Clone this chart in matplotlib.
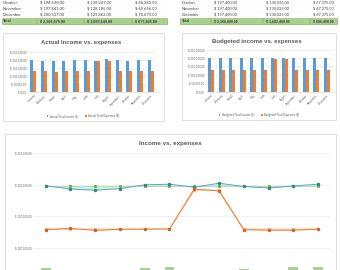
import matplotlib
matplotlib.use('Agg')
import matplotlib.pyplot as plt
from matplotlib.patches import Rectangle
import numpy as np

plt.rcParams['font.family'] = ['Lato', 'DejaVu Sans']
BOLD_FONT = ['Liberation Sans', 'DejaVu Sans']

months = ['January', 'February', 'March', 'April', 'May', 'June', 'July',
          'August', 'September', 'October', 'November', 'December']
actual_income = [198000, 193000, 191000, 193700, 199500, 200500,
                 195800, 202000, 197000, 194530, 197841, 200537]
actual_expenses = [129000, 131000, 128000, 129500, 130000, 130000,
                   193000, 190000, 129000, 128247, 128185, 129862]
budget_income = [197400, 197400, 197400, 197400, 197400, 197400,
                 197400, 197400, 197400, 197400, 197400, 197400]
budget_expenses = [130025, 130025, 130025, 130025, 130025, 130025,
                   191075, 191075, 130025, 130025, 130025, 130025]
net_income = [69000, 62000, 63000, 64200, 69500, 70500,
              2800, 12000, 68000, 66283, 69656, 70675]

table_rows = ['October', 'November', 'December', 'Total']
actual_table = [[194530, 128247, 66283],
                [197841, 128185, 69656],
                [200537, 129862, 70675],
                [2366575, 1689149, 677426]]
budget_table = [[197400, 130025, 67375],
                [197400, 130025, 67375],
                [197400, 130025, 67375],
                [2368800, 1682400, 686400]]

W, H = 340, 270
TXT = '#404040'
GRID = '#e3e3e3'

fig = plt.figure(figsize=(3.4, 2.7), dpi=100)
fig.patch.set_facecolor('white')


def rect(x0, y0, x1, y1):
    return [x0 / W, 1 - y1 / H, (x1 - x0) / W, (y1 - y0) / H]


def money(v):
    return f'$ {v:,.2f}'


def frame(x0, y0, x1, y1):
    fig.patches.append(Rectangle((x0 / W, 1 - y1 / H), (x1 - x0) / W, (y1 - y0) / H,
                                 transform=fig.transFigure, fc='white',
                                 ec='#d9d9d9', lw=0.6, zorder=-5))


def table(x_label, x_cols, x0, x1, values, fs):
    ys = [2.6, 8.5, 14.5, 21.1]
    fig.patches.append(Rectangle((x0 / W, 1 - 24 / H), (x1 - x0) / W, 5.6 / H,
                                 transform=fig.transFigure, fc='#a9d08e',
                                 ec='#70ad47', lw=0.4, zorder=-5))
    for y in [5.5, 11.5, 17.6]:
        fig.add_artist(plt.Line2D([x0 / W, x1 / W], [1 - y / H] * 2,
                                  color='#e8e8e8', lw=0.3))
    for xc in x_cols:
        fig.add_artist(plt.Line2D([(xc - 3) / W] * 2, [1 - 24 / H, 1 - 18.4 / H],
                                  color='#70ad47', lw=0.3))
    for i, (name, y) in enumerate(zip(table_rows, ys)):
        if name == 'Total':
            kw = dict(fontsize=fs * 0.9, fontweight='bold', family=BOLD_FONT)
        else:
            kw = dict(fontsize=fs)
        fig.text(x_label / W, 1 - y / H, name, color=TXT, va='center', **kw)
        for xc, v in zip(x_cols, values[i]):
            fig.text(xc / W, 1 - y / H, money(v), color=TXT, va='center', **kw)


def bar_chart(box, income, expenses, labels, title, title_xy, legend_xy):
    ax = fig.add_axes(rect(*box))
    ax.set_zorder(2)
    ax.patch.set_alpha(0)
    x = np.arange(len(months))
    ax.bar(x - 0.15, income, 0.28, color='#5b9bd5', label=labels[0])
    ax.bar(x + 0.15, expenses, 0.28, color='#ed7d31', label=labels[1])
    ax.set_xlim(-0.5, 11.5)
    ax.set_ylim(0, 250000)
    ticks = np.arange(0, 250001, 50000)
    ax.set_yticks(ticks)
    ax.set_yticklabels([money(t) for t in ticks], fontsize=2, color='#595959')
    ax.set_xticks(x)
    ax.set_xticklabels(months, rotation=45, ha='right', rotation_mode='anchor',
                       fontsize=2, color='#595959')
    ax.tick_params(length=0, pad=1.2)
    for s in ['top', 'right', 'left']:
        ax.spines[s].set_visible(False)
    ax.spines['bottom'].set_color('#d9d9d9')
    ax.spines['bottom'].set_linewidth(0.5)
    ax.grid(axis='y', color=GRID, lw=0.4)
    ax.set_axisbelow(True)
    fig.text(title_xy[0] / W, 1 - title_xy[1] / H, title, fontsize=4.3,
             fontweight='bold', family=BOLD_FONT, color='#595959',
             ha='center', va='center')
    ax.legend(loc='center', bbox_to_anchor=(legend_xy[0] / W, 1 - legend_xy[1] / H),
              bbox_transform=fig.transFigure, ncol=2, frameon=False, fontsize=2,
              handlelength=0.7, handleheight=0.7, columnspacing=2.5,
              handletextpad=0.5, labelcolor='#595959')
    return ax


# top tables
table(3, [40, 87, 135], 2, 167, actual_table, 3)
table(182, [214, 266, 313], 180, 337, budget_table, 2.8)

# bar charts
frame(3, 32.5, 164, 121)
bar_chart((28, 51.7, 156, 92.3), actual_income, actual_expenses,
          ['Actual Total Income ($)', 'Actual Total Expenses ($)'],
          'Actual Income vs. expenses', (81, 42.5), (83, 116))

frame(182, 32.5, 336, 120)
bar_chart((206, 49.5, 332, 91.7), budget_income, budget_expenses,
          ['Budgeted Total Income ($)', 'Budgeted Total Expenses ($)'],
          'Budgeted income vs. expenses', (257, 41.7), (259, 115))

# combined line chart
frame(5, 134, 336, 280)
ax3 = fig.add_axes(rect(33.3, 152.7, 330.4, 311.8))
ax3.set_zorder(2)
ax3.patch.set_alpha(0)
x = np.arange(len(months))
ax3.bar(x, net_income, 0.4, color='#a9d18e', zorder=1)
ax3.fill_between(x, actual_income, budget_income, color='#c7e6ec', alpha=0.8, lw=0, zorder=2)
ax3.fill_between(x, actual_expenses, budget_expenses, color='#fbe0cc', alpha=0.8, lw=0, zorder=2)
ax3.plot(x, budget_income, color='#a8d48f', lw=0.5, marker='o', ms=1.3,
         mfc='#70ad47', mec='#70ad47', zorder=3)
ax3.plot(x, actual_income, color='#4bacc6', lw=0.7, marker='o', ms=1.5,
         mfc='#2e8b7a', mec='#2e8b7a', zorder=4)
ax3.plot(x, budget_expenses, color='#f4b183', lw=0.6, marker='o', ms=1.3,
         mfc='#f4b183', mec='#f4b183', zorder=3)
ax3.plot(x, actual_expenses, color='#ed7d31', lw=0.7, marker='o', ms=1.5,
         mfc='#d0651f', mec='#d0651f', zorder=4)
ax3.set_xlim(-0.5, 11.5)
ax3.set_ylim(0, 250000)
shown = np.arange(100000, 250001, 50000)
ax3.set_yticks(shown, [money(t) for t in shown], fontsize=2, color='#595959')
ax3.set_xticks([])
ax3.tick_params(length=0, pad=1.2)
for s in ax3.spines.values():
    s.set_visible(False)
ax3.grid(axis='y', color=GRID, lw=0.4)
ax3.set_axisbelow(True)
fig.text(170 / W, 1 - 143 / H, 'Income vs. expenses', fontsize=4.5,
         fontweight='bold', family=BOLD_FONT, color='#595959',
         ha='center', va='center')

fig.savefig('out.png', dpi=100, facecolor='white')
